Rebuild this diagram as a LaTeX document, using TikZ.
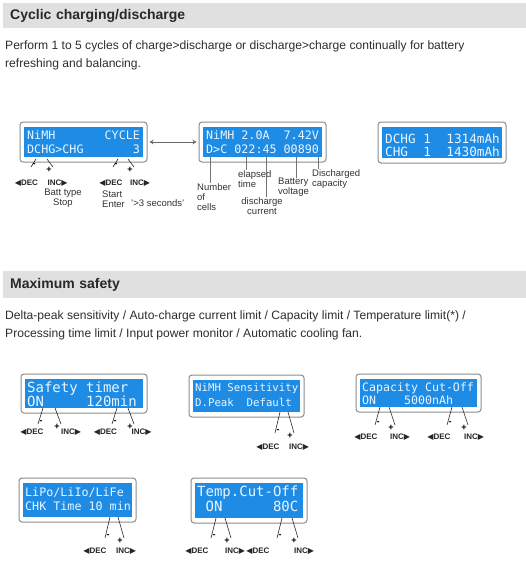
\documentclass[tikz,border=0pt]{standalone}
\usepackage{fontspec}
\setmainfont{Liberation Sans}
\newfontfamily\lcdfont{DejaVu Sans Mono}
\newfontfamily\symfont{DejaVu Sans}
\usetikzlibrary{arrows.meta, positioning, calc, fit}
\definecolor{hdrgray}{RGB}{224,224,224}
\definecolor{hdrtext}{RGB}{40,40,40}
\definecolor{bodytext}{RGB}{45,45,45}
\definecolor{lcdblue}{RGB}{30,140,228}
\definecolor{rimgray}{RGB}{140,140,140}
\definecolor{lcdtext}{RGB}{235,245,255}
\tikzstyle{hdr} = [anchor=north west, fill=hdrgray, minimum height=25pt, text width=509pt, inner xsep=7pt, align=left, text=hdrtext, font=\bfseries\fontsize{14}{16}\selectfont]
\tikzstyle{para} = [anchor=north west, inner sep=0pt, align=left, text=bodytext, font=\fontsize{12.1}{18}\selectfont]
\tikzstyle{rim} = [draw=rimgray, line width=1pt, rounded corners=3pt, fill=white, inner xsep=4pt, inner ysep=5pt]
\tikzstyle{panel} = [fill=lcdblue]
\tikzstyle{lead} = [black!85, line width=0.6pt]
\tikzstyle{tick} = [black!55, line width=0.5pt]
\tikzstyle{keylbl} = [inner sep=0pt, text=black!85, font=\bfseries\fontsize{8}{9}\selectfont]
\tikzstyle{sign} = [inner sep=0pt, font=\bfseries\fontsize{9}{9}\selectfont]
\tikzstyle{note} = [inner sep=0pt, text=black!80, align=left, font=\fontsize{9.5}{10}\selectfont]
\tikzstyle{link} = [{Stealth[length=4pt,width=4.5pt]}-{Stealth[length=4pt,width=4.5pt]}, black!60, line width=0.5pt, shorten <=2pt, shorten >=2pt]
\tikzset{lcd/.style={anchor=west, inner sep=0pt, text=lcdtext, font=\lcdfont\fontsize{#1}{#1}\selectfont}}

% LCD screen: name, panel top left, panel bottom right
\newcommand{\lcd}[3]{%
  \node[rim, fit={#2 #3}] (#1) {};
  \fill[panel] #2 rectangle #3;}

% key leads: name, x minus, x plus, y top, y bottom, y labels, x DEC, x INC
\newcommand{\keypair}[8]{%
  \coordinate (#1mt) at (#2,#4);
  \coordinate (#1mb) at (#2-5,#5);
  \coordinate (#1pt) at (#3,#4);
  \coordinate (#1pb) at (#3+6,#5);
  \draw[lead] (#1mt) -- (#1mb);
  \draw[lead] (#1pt) -- (#1pb);
  \node[sign] (#1m) at (#2-2,#5-2) {-};
  \node[sign] (#1p) at (#3+2,#5+3) {+};
  \node[keylbl] (#1dec) at (#7,#6) {{\symfont ◀}DEC};
  \node[keylbl] (#1inc) at (#8,#6) {INC{\symfont ▶}};}

\begin{document}
\begin{tikzpicture}[x=1pt, y=-1pt]
    \useasboundingbox (0,0) rectangle (526,565);

    % Cyclic charging
    \node[hdr] (cychead) at (3,3) {Cyclic charging/discharge};
    \node[para] (cycdesc) at (5,41) {Perform 1 to 5 cycles of charge>discharge or discharge>charge continually for battery\\refreshing and balancing.};

    \lcd{cyc}{(24,127)}{(143,157)}
    \node[lcd=11.7] (cyc1) at (27,135) {NiMH~~~~~~~CYCLE};
    \node[lcd=11.7] (cyc2) at (27,149) {DCHG>CHG~~~~~~~3};

    \lcd{nimh}{(203,127)}{(322,157)}
    \node[lcd=11.7] (nimh1) at (206,135) {NiMH~2.0A~~7.42V};
    \node[lcd=11.7] (nimh2) at (206,149) {D>C~022:45~00890};

    \lcd{tot}{(382,127)}{(502,158)}
    \node[lcd=12.7] (tot1) at (385,139) {DCHG~1~~1314mAh};
    \node[lcd=12.7] (tot2) at (385,152) {CHG~~1~~1430mAh};

    \draw[link] (cyc) -- (nimh);

    \keypair{ka}{36}{47}{159}{167}{183}{26.5}{57.5}
    \keypair{kb}{118}{128}{159}{167}{183}{111}{140}
    \node[note, align=center, anchor=north] (btype) at (63,189) {Batt type\\Stop};
    \node[note, anchor=north west] (start) at (102,191) {Start\\Enter};
    \node[note, anchor=west] (hold) at (131,203) {'>3 seconds'};

    % readout labels
    \node[note, anchor=north west] (cells) at (197,183) {Number\\of\\cells};
    \node[note, anchor=north west] (elap) at (238,170) {elapsed\\time};
    \node[note, align=center, anchor=north] (dcur) at (262,197) {discharge\\current};
    \node[note, anchor=north west] (bvolt) at (278,178) {Battery\\voltage};
    \node[note, anchor=north west] (dcap) at (312,169) {Discharged\\capacity};
    \foreach \x/\lbl in {210/cells, 246/elap, 266/dcur, 296/bvolt, 318/dcap}{
        \coordinate (tk) at (\x,157);
        \draw[tick] (tk) -- (tk |- \lbl.north);
    }

    % Maximum safety
    \node[hdr, minimum height=27pt] (safehead) at (3,271) {Maximum safety};
    \node[para] (safedesc) at (5,311) {Delta-peak sensitivity / Auto-charge current limit / Capacity limit / Temperature limit(*) /\\Processing time limit / Input power monitor / Automatic cooling fan.};

    \lcd{timer}{(25,379)}{(143,408)}
    \node[lcd=14] (timer1) at (27,389) {Safety~timer};
    \node[lcd=14] (timer2) at (27,401) {ON~~~~~120min};
    \keypair{ta}{43}{55}{408}{424}{432}{32}{71}
    \keypair{tb}{117}{128}{408}{424}{432}{105.5}{141.5}

    \lcd{sens}{(193,380)}{(300,412)}
    \node[lcd=10.7] (sens1) at (195,389) {NiMH~Sensitivity};
    \node[lcd=10.7] (sens2) at (195,402) {D.Peak~~Default};
    \keypair{sa}{280}{288}{412}{433}{447}{268}{299}

    \lcd{capa}{(360,379)}{(477,407)}
    \node[lcd=11.6] (capa1) at (362,388) {Capacity~Cut-Off};
    \node[lcd=11.6] (capa2) at (362,400) {ON~~~~5000nAh};
    \keypair{ca}{380}{389}{407}{425}{437}{366}{400}
    \keypair{cb}{452}{462}{407}{425}{437}{439}{474}

    \lcd{chk}{(23,483)}{(132,517)}
    \node[lcd=11.7] (chk1) at (25,493) {LiPo/LiIo/LiFe};
    \node[lcd=11.7] (chk2) at (25,506) {CHK~Time~10~min};
    \keypair{la}{110}{118}{517}{538}{551}{95}{126}

    \lcd{temp}{(195,483)}{(303,518)}
    \node[lcd=14] (temp1) at (197,493) {Temp.Cut-Off};
    \node[lcd=14] (temp2) at (197,506) {~ON~~~~~~80C};
    \keypair{ea}{216}{225}{518}{538}{551}{197}{235}
    \keypair{eb}{282}{292}{518}{538}{551}{258}{304}
\end{tikzpicture}
\end{document}
